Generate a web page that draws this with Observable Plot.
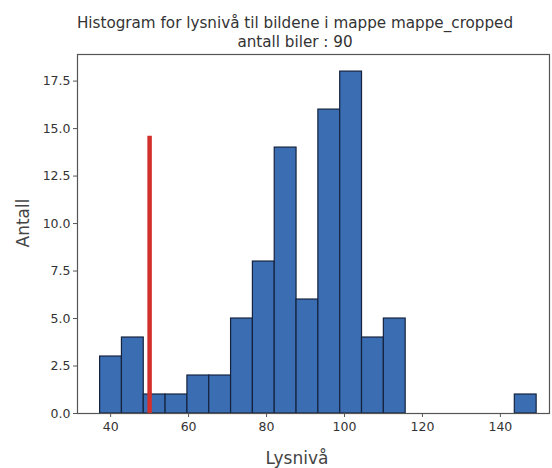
<!DOCTYPE html>
<html>
<head>
<meta charset="utf-8">
<script src="https://cdn.jsdelivr.net/npm/d3@7"></script>
<script src="https://cdn.jsdelivr.net/npm/@observablehq/plot@0.6"></script>
<style>
  body { margin: 0; background: white; }
  #wrap { position: relative; width: 552px; height: 468px; background: white; font-family: "DejaVu Sans", sans-serif; }
  .t { position: absolute; color: #333; white-space: nowrap; }
</style>
</head>
<body>
<div id="wrap">
  <div class="t" id="title1" style="left:0; width:590px; top:14px; text-align:center; font-size:15.2px;">Histogram for lysnivå til bildene i mappe mappe_cropped</div>
  <div class="t" id="title2" style="left:0; width:590px; top:33px; text-align:center; font-size:15.2px;">antall biler : 90</div>
  <div class="t" id="ylab" style="left:23px; top:223px; font-size:17px; transform: translate(-50%,-50%) rotate(-90deg); color:#444;">Antall</div>
  <div class="t" id="xlab" style="left:297px; top:458px; font-size:17px; transform: translate(-50%,-50%); color:#444;">Lysnivå</div>
</div>
<script>
// Histogram bin edges (lysnivå) and counts
const binEdges = [37.3, 42.9, 48.5, 54.1, 59.7, 65.3, 70.9, 76.5, 82.1, 87.7, 93.3, 98.9, 104.5, 110.1, 115.7, 121.3, 126.9, 132.5, 138.1, 143.7, 149.3];
const counts   = [3, 4, 1, 1, 2, 2, 5, 8, 14, 6, 16, 18, 4, 5, 0, 0, 0, 0, 0, 1];
const threshold = 50;
const thresholdTop = 14.6;
const xTicks = [40, 60, 80, 100, 120, 140];
const yTicks = [0, 2.5, 5, 7.5, 10, 12.5, 15, 17.5];

const bins = counts.map((c, i) => ({x1: binEdges[i], x2: binEdges[i + 1], n: c})).filter(d => d.n > 0);

const chart = Plot.plot({
  width: 552,
  height: 468,
  marginLeft: 77,
  marginRight: 3,
  marginTop: 54,
  marginBottom: 55,
  x: {domain: [31.5, 152.6]},
  y: {domain: [0, 18.9]},
  style: {fontFamily: "DejaVu Sans", fontSize: "12.5px", color: "#333", background: "transparent"},
  marks: [
    Plot.rectY(bins, {x1: "x1", x2: "x2", y: "n", fill: "#3a6db1", stroke: "#15233f", strokeWidth: 1.2, inset: 0}),
    Plot.ruleX([threshold], {y1: 0, y2: thresholdTop, stroke: "#d3302c", strokeWidth: 4.5}),
    Plot.frame({stroke: "#555", strokeWidth: 1.2}),
    Plot.axisX({ticks: xTicks, tickSize: 4, tickPadding: 5, label: null, stroke: "#555"}),
    Plot.axisY({ticks: yTicks, tickSize: 4, tickPadding: 3, label: null, tickFormat: d => d.toFixed(1), stroke: "#555"})
  ]
});
chart.style.position = "absolute";
chart.style.left = "0px";
chart.style.top = "0px";
document.getElementById("wrap").appendChild(chart);
</script>
</body>
</html>
